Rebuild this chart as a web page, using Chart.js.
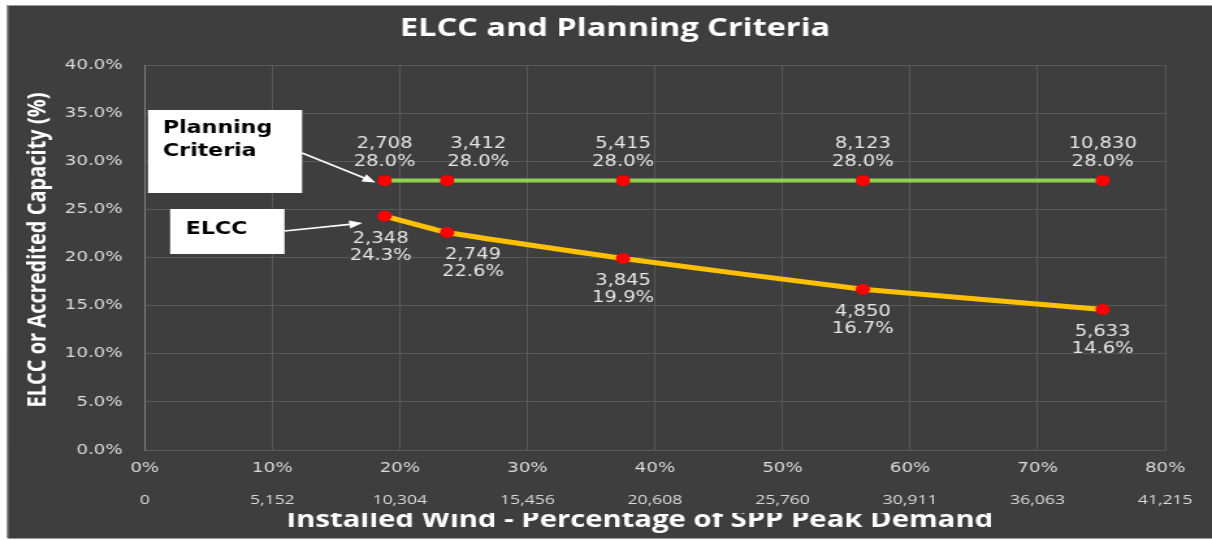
<!DOCTYPE html>
<html>
<head>
<meta charset="utf-8">
<script src="https://cdn.jsdelivr.net/npm/chart.js@4.4.1/dist/chart.umd.min.js"></script>
<style>
html, body { margin: 0; padding: 0; background: #fff; }
</style>
</head>
<body>
<!-- the source picture is stretched sideways, so the canvas is drawn narrow and widened by css -->
<canvas id="chart" width="932" height="541" style="display:block;width:1212px;height:541px"></canvas>
<script>
var installedPct = [18.8, 23.7, 37.5, 56.3, 75.1];
var planningPct = [28.0, 28.0, 28.0, 28.0, 28.0];
var planningMW = [2708, 3412, 5415, 8123, 10830];
var elccPct = [24.3, 22.6, 19.9, 16.7, 14.6];
var elccMW = [2348, 2749, 3845, 4850, 5633];
var pctTicks = [0, 10, 20, 30, 40, 50, 60, 70, 80];
var mwTicks = [0, 5152, 10304, 15456, 20608, 25760, 30911, 36063, 41215];
var yTicks = [0, 5, 10, 15, 20, 25, 30, 35, 40];

var BG = '#3e3e3e';
var GRID = '#595959';
var TXT = '#dcdcdc';

function pairs(xs, ys) {
    return xs.map(function (x, i) { return { x: x, y: ys[i] }; });
}
function fmt(n) {
    return n.toLocaleString('en-US');
}

var framePlugin = {
    id: 'frame',
    beforeDraw: function (chart) {
        var ctx = chart.ctx;
        ctx.save();
        ctx.fillStyle = '#ffffff';
        ctx.fillRect(0, 0, chart.width, chart.height);
        ctx.fillStyle = BG;
        ctx.fillRect(5.4, 5, chart.width - 5.4, 533);
        ctx.strokeStyle = '#9a9a9a';
        ctx.lineWidth = 1;
        ctx.beginPath();
        ctx.moveTo(5.9, 538); ctx.lineTo(5.9, 5.5); ctx.lineTo(chart.width, 5.5);
        ctx.moveTo(5.9, 538.5); ctx.lineTo(chart.width, 538.5);
        ctx.stroke();
        ctx.restore();
    }
};

function arrow(ctx, x1, y1, x2, y2) {
    var a = Math.atan2(y2 - y1, x2 - x1);
    ctx.beginPath();
    ctx.moveTo(x1, y1);
    ctx.lineTo(x2 - 8 * Math.cos(a), y2 - 8 * Math.sin(a));
    ctx.stroke();
    ctx.beginPath();
    ctx.moveTo(x2, y2);
    ctx.lineTo(x2 - 10 * Math.cos(a) + 4 * Math.sin(a), y2 - 10 * Math.sin(a) - 4 * Math.cos(a));
    ctx.lineTo(x2 - 10 * Math.cos(a) - 4 * Math.sin(a), y2 - 10 * Math.sin(a) + 4 * Math.cos(a));
    ctx.closePath();
    ctx.fill();
}

var textPlugin = {
    id: 'texts',
    afterDatasetsDraw: function (chart) {
        var ctx = chart.ctx;
        ctx.save();
        ctx.font = '15px "DejaVu Sans"';
        ctx.fillStyle = '#e6e6e6';
        ctx.textAlign = 'center';
        ctx.textBaseline = 'middle';
        chart.getDatasetMeta(0).data.forEach(function (p, i) {
            var dx = i === 1 ? 24 : 0;
            ctx.fillText(fmt(planningMW[i]), p.x + dx, p.y - 36);
            ctx.fillText(planningPct[i].toFixed(1) + '%', p.x + dx, p.y - 18);
        });
        chart.getDatasetMeta(1).data.forEach(function (p, i) {
            var dx = i === 1 ? 20 : (i === 0 ? -3 : 0);
            ctx.fillText(fmt(elccMW[i]), p.x + dx, p.y + 23);
            ctx.fillText(elccPct[i].toFixed(1) + '%', p.x + dx, p.y + 40);
        });
        ctx.restore();
    },
    afterDraw: function (chart) {
        var ctx = chart.ctx;
        var area = chart.chartArea;
        ctx.save();

        // chart title
        ctx.fillStyle = '#ffffff';
        ctx.font = 'bold 25px "Open Sans"';
        ctx.textAlign = 'center';
        ctx.textBaseline = 'alphabetic';
        ctx.fillText('ELCC and Planning Criteria', 473, 36);

        // y axis title
        ctx.save();
        ctx.translate(29, 250);
        ctx.rotate(-Math.PI / 2);
        ctx.font = 'bold 20px "Open Sans"';
        ctx.textBaseline = 'middle';
        ctx.fillText('ELCC or Accredited Capacity (%)', 0, 0);
        ctx.restore();

        // x axis title, its top hidden under the MW row
        ctx.save();
        ctx.beginPath();
        ctx.rect(0, 513, chart.width, 25);
        ctx.clip();
        ctx.font = 'bold 22.5px "Open Sans"';
        ctx.fillText('Installed Wind - Percentage of SPP Peak Demand', 492, 527);
        ctx.restore();

        // callouts
        var p0 = chart.getDatasetMeta(0).data[0];
        var e0 = chart.getDatasetMeta(1).data[0];
        var bx = area.left + 2.5;
        ctx.fillStyle = '#ffffff';
        ctx.fillRect(bx, 110, 118.5, 83);
        ctx.fillRect(bx + 17, 209, 88, 45);
        ctx.strokeStyle = '#ffffff';
        ctx.lineWidth = 1.6;
        arrow(ctx, bx + 118.5, 153, p0.x - 7, p0.y + 2);
        arrow(ctx, bx + 105, 231, e0.x - 17, e0.y + 7);
        ctx.fillStyle = '#000000';
        ctx.font = 'bold 17px "DejaVu Sans"';
        ctx.textAlign = 'left';
        ctx.textBaseline = 'middle';
        ctx.fillText('Planning', bx + 11.5, 129);
        ctx.fillText('Criteria', bx + 11.5, 152);
        ctx.fillText('ELCC', bx + 29, 230);
        ctx.restore();
    }
};

var ctx = document.getElementById('chart').getContext('2d');
var chart = new Chart(ctx, {
    type: 'line',
    data: {
        datasets: [{
            label: 'Planning Criteria',
            data: pairs(installedPct, planningPct),
            borderColor: '#92d050',
            borderWidth: 4,
            pointRadius: 5.5,
            pointBackgroundColor: '#ff0000',
            pointBorderColor: '#ff0000',
            pointBorderWidth: 0
        }, {
            label: 'ELCC',
            data: pairs(installedPct, elccPct),
            borderColor: '#ffc000',
            borderWidth: 5,
            tension: 0.1,
            pointRadius: 5.5,
            pointBackgroundColor: '#ff0000',
            pointBorderColor: '#ff0000',
            pointBorderWidth: 0
        }]
    },
    options: {
        responsive: false,
        animation: false,
        devicePixelRatio: 1,
        layout: { padding: { left: 0, right: 36, top: 65, bottom: 0 } },
        plugins: {
            legend: { display: false },
            title: { display: false },
            tooltip: { enabled: false }
        },
        scales: {
            x: {
                type: 'linear',
                position: 'bottom',
                min: 0,
                max: 80,
                afterBuildTicks: function (s) { s.ticks = pctTicks.map(function (v) { return { value: v }; }); },
                afterFit: function (s) { s.height = 30; },
                grid: { color: GRID, drawTicks: false },
                border: { color: GRID },
                ticks: {
                    color: TXT,
                    padding: 10,
                    maxRotation: 0,
                    font: { family: 'DejaVu Sans', size: 14 },
                    callback: function (v) { return v + '%'; }
                }
            },
            x2: {
                type: 'linear',
                position: 'bottom',
                min: 0,
                max: 41215,
                afterBuildTicks: function (s) { s.ticks = mwTicks.map(function (v) { return { value: v }; }); },
                afterFit: function (s) { s.height = 61; },
                grid: { display: false, drawTicks: false },
                border: { display: false },
                ticks: {
                    color: TXT,
                    padding: 12,
                    maxRotation: 0,
                    autoSkip: false,
                    font: { family: 'Open Sans', size: 13.5 },
                    callback: function (v) { return fmt(v); }
                }
            },
            y: {
                min: 0,
                max: 40,
                afterBuildTicks: function (s) { s.ticks = yTicks.map(function (v) { return { value: v }; }); },
                afterFit: function (s) { s.width = 111.3; },
                grid: { color: GRID, drawTicks: false },
                border: { color: '#808080' },
                ticks: {
                    color: TXT,
                    padding: 17,
                    font: { family: 'DejaVu Sans', size: 14 },
                    callback: function (v) { return v.toFixed(1) + '%'; }
                }
            }
        }
    },
    plugins: [framePlugin, textPlugin]
});
</script>
</body>
</html>
